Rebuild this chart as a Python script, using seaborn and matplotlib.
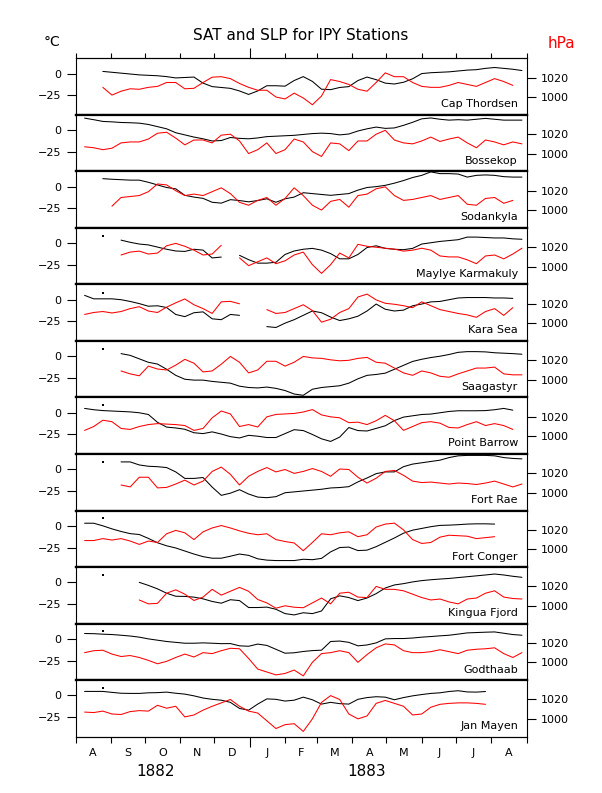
"""SAT and SLP for the IPY (1882-83) stations: stacked panels, black = SAT, red = SLP."""

import matplotlib

matplotlib.use("Agg")

import matplotlib.pyplot as plt
import numpy as np
import pandas as pd
import seaborn as sns

nan = np.nan

# readings sampled every 8 days starting 1 Aug 1882
start = pd.Timestamp("1882-08-01")
sample_dates = pd.date_range(start, periods=50, freq="8D")

stations = ["Cap Thordsen", "Bossekop", "Sodankyla", "Maylye Karmakuly", "Kara Sea", "Saagastyr",
            "Point Barrow", "Fort Rae", "Fort Conger", "Kingua Fjord", "Godthaab", "Jan Mayen"]

# surface air temperature, degC
cap_thordsen_sat = [nan, nan, nan, 2.5, 1.5, 0.5, -0.5, -1.5, -2, -2.5,
                    -3.5, -5, -4.5, -4, -11, -15, -16, -17, -20, -24,
                    -20, -14, -14, -14.5, -8, -3.5, -9, -18, -18.5, -16,
                    -15, -8, -4, -7, -11, -12, -10, -6, 0, 1,
                    1.5, 2, 3, 4, 4.5, 6, 7, 6, 5, 3.5]
bossekop_sat = [nan, 13.8, 12, 10, 9.5, 8.8, 8.5, 8, 6.5, 4,
                1.5, -3, -5.5, -8, -10, -12.5, -12, -8.5, -9.5, -10,
                -9, -7.5, -7, -6.5, -6, -5, -4, -3.5, -4, -5.5,
                -4.5, -1, 1.5, 3.5, 2, 2.5, 5.5, 9, 13, 14,
                12.5, 11.5, 12, 11.5, 12.5, 13.5, 12.5, 11.5, 11.5, 11.5]
sodankyla_sat = [nan, nan, nan, 9.2, 8.5, 8, 7.5, 7.5, 5, 2,
                 -1, -2.5, -10, -12, -13.5, -18, -19, -15, -16, -17.5,
                 -16, -14, -18, -14, -12, -7, -8, -9, -10, -9,
                 -8, -4, -1, 0, 1.5, 4, 7, 10.5, 13, 17,
                 15, 15, 14.5, 11, 13, 13.5, 13, 11.5, 11, 11]
karmakuly_sat = [nan, nan, nan, nan, nan, 3.5, 1, -1, -2, -4.5,
                 -7, -9, -9.5, -7, -8, -17, -16, nan, -14, -19,
                 -23, -23, -22, -13, -9, -7, -6, -8, -12, -18,
                 -18, -13, -5, -3, -6, -7, -7.5, -6, -1, 0.5,
                 2, 3, 4, 7, 7, 6.5, 6, 6, 5, 4.5]
kara_sea_sat = [nan, 5, 1, 1, 1, 0, -2, -4.5, -7.5, -7,
                -9, -17, -19.5, -15, -14, -22, -23, -17, -18, nan,
                nan, -31, -32, -27, -23, -18, -13, -15, -20, -24,
                -22, -19, -13, -5, -11, -13, -12, -7, -5, -2.5,
                -2, 0, 2, 2.5, 2.5, 2.5, 2, 2, 1.5, nan]
saagastyr_sat = [nan, nan, nan, nan, nan, 3, 1, -3, -7, -9,
                 -15, -22, -26.5, -27.5, -27.5, -29, -30, -31, -34.5, -36,
                 -36.5, -35.5, -37, -39.5, -43.5, -45, -38, -36, -35, -34,
                 -31, -26, -22, -21, -19.5, -15, -10.5, -6, -3.5, -1.5,
                 0, 2, 4.5, 5.3, 5.3, 5, 4, 3.5, 3, 2.3]
point_barrow_sat = [nan, 5, 3.5, 2.5, 2, 1.5, 1, 0, -2, -11,
                    -16.5, -17.5, -19, -23, -24, -22, -24.5, -27.5, -29, -26,
                    -27, -28.5, -28.5, -24, -19.5, -20.5, -25, -30, -33, -28,
                    -17, -20.5, -21, -18, -15, -9, -5, -3.5, -2, -1.5,
                    0, 1.5, 2.3, 2.3, 2.3, 2.5, 3.5, 5, 3, nan]
fort_rae_sat = [nan, nan, nan, nan, nan, 8.5, 8.5, 5, 3.5, 3,
                2, -3, -10.5, -10.5, -9.5, -20.5, -30, -27.5, -23.5, -28.5,
                -32, -32.7, -31.5, -27, -26, -25, -24, -23, -21.5, -21,
                -20, -14.5, -10, -5, -3, -3, 3, 6, 7.5, 9,
                10.5, 13.5, 15.5, 16, 16, 16, 15.5, 13.5, 12.5, 12]
fort_conger_sat = [nan, 3, 3, 0, -3.5, -6.5, -9, -10, -14.5, -19.5,
                   -23, -25.5, -29, -32.5, -35.5, -37.3, -37.3, -35, -32.5, -34,
                   -38, -39.5, -40, -40, -40, -38.5, -39, -37.5, -30, -25,
                   -24.5, -28.5, -28, -24, -19, -14, -8.5, -5, -3, -1,
                   0.5, 0.8, 1.3, 2, 2.3, 2.3, 2, nan, nan, nan]
kingua_fjord_sat = [nan, nan, nan, nan, nan, nan, nan, 0, -3.5, -7.5,
                    -12.5, -16, -16.2, -17, -19, -22, -24, -20, -21, -29,
                    -29, -28.5, -31, -36, -37.5, -35, -36, -33, -19, -15.5,
                    -17.5, -21, -18, -13, -6.5, -3, -1.5, 0.5, 2, 3,
                    3.8, 4.5, 5.5, 6.5, 7.5, 8.5, 9.6, 8.5, 7, 5.8]
godthaab_sat = [nan, 6.2, 6, 5.4, 5, 4.2, 3.3, 2, 0, -1.5,
                -3, -4, -5, -5, -4.6, -5, -5.5, -5.4, -8, -8.5,
                -6, -7.5, -12, -16.5, -16, -14.5, -13.5, -13, -3, -2.5,
                -4, -8, -7, -4.6, 0, 0.4, 0.4, 1, 2, 2.7,
                3.5, 4.2, 5.5, 6.9, 7.3, 7.7, 8, 6.5, 5, 4.2]
jan_mayen_sat = [nan, 4.6, 4.6, 4.6, 3.5, 2.5, 2.3, 2.3, 3, 3.2,
                 3.8, 2.5, 1.5, -0.5, -3, -4.5, -5.5, -8, -15, -17,
                 -10, -4, -4.5, -6.5, -5.5, -2, -5, -10, -8, -9.5,
                 -10, -4.5, -2.5, -1.5, -2, -5, -2.5, -0.5, 1, 2.3,
                 3, 4.5, 5.4, 4, 3.8, 4.5, nan, nan, nan, nan]

# sea level pressure, hPa
cap_thordsen_slp = [nan, nan, nan, 1010, 1002, 1006, 1008.5, 1008, 1010, 1011,
                    1015, 1015, 1008.5, 1009, 1015, 1020.5, 1021, 1019, 1014, 1010,
                    1007, 1007, 1000, 998, 1004, 999, 992, 1001, 1018, 1016,
                    1013, 1008, 1006, 1015, 1025, 1021, 1021, 1015, 1011, 1010,
                    1010, 1012, 1015, 1013, 1011, 1015, 1019, 1016, 1012, nan]
bossekop_slp = [nan, 1007, 1006, 1004, 1005.5, 1011, 1012, 1012, 1015, 1021,
                1022, 1016, 1009, 1014, 1014, 1011, 1019, 1020, 1013, 1000,
                1004, 1011, 1000, 1004, 1015, 1012, 1002, 997, 1011, 1010,
                1003, 1013, 1013, 1020, 1024, 1014, 1011, 1010, 1013, 1017,
                1012.5, 1015, 1017, 1011, 1006, 1014, 1012, 1009, 1012, 1010]
sodankyla_slp = [nan, nan, nan, nan, 1004, 1013, 1014, 1015, 1019, 1027,
                 1026, 1020, 1015, 1016.5, 1015, 1019, 1023, 1017, 1008, 1005,
                 1010, 1013, 1005, 1012, 1023, 1015, 1005, 1000, 1009, 1011,
                 1003, 1015, 1016.5, 1022, 1024, 1015, 1010, 1011, 1013, 1015,
                 1011, 1013, 1015, 1006, 1005, 1012, 1013, 1007, 1010, nan]
karmakuly_slp = [nan, nan, nan, nan, nan, 1012, 1015, 1016, 1013, 1014,
                 1021.5, 1024, 1021, 1017, 1012, 1013, 1022, nan, 1009, 1001,
                 1005, 1009, 1003, 1006, 1012, 1015, 1002, 993, 1002, 1014,
                 1009, 1023, 1021, 1020, 1019, 1018, 1016, 1017, 1019, 1017,
                 1011, 1010, 1010, 1007, 1003, 1011, 1012, 1008, 1013, 1019]
kara_sea_slp = [nan, 1009, 1011, 1012, 1010.5, 1012, 1015, 1017, 1012.5, 1011,
                1016.5, 1021, 1025, 1019, 1015, 1010, 1022, 1022.5, 1020, nan,
                nan, 1014, 1010, 1011, 1015, 1019, 1013, 1001, 1004, 1011,
                1015, 1027, 1030, 1024, 1020.5, 1019.5, 1018, 1016, 1022, 1018,
                1014, 1012, 1010, 1008.5, 1006, 1012, 1015, 1008, 1016, nan]
saagastyr_slp = [nan, nan, nan, nan, nan, 1009, 1006, 1004, 1014, 1011,
                 1010, 1015, 1021, 1017, 1008, 1009, 1016, 1024, 1018, 1007,
                 1010, 1019, 1019, 1014, 1018, 1024, 1022.5, 1022, 1020.5, 1019.5,
                 1020, 1022, 1023, 1018, 1017, 1012, 1007, 1004.5, 1009, 1007,
                 1003.5, 1002.5, 1006, 1009, 1012, 1012, 1013, 1006, 1005, 1005]
point_barrow_slp = [nan, 1006, 1010, 1016.5, 1015, 1008, 1007, 1010, 1012, 1013,
                    1012.5, 1012, 1011, 1006, 1008, 1019, 1026, 1023, 1010, 1012,
                    1009.5, 1020, 1022.5, 1023, 1023.5, 1025, 1027.5, 1022, 1020, 1019,
                    1014, 1014.5, 1012, 1016, 1021.5, 1016, 1006, 1010, 1014, 1015,
                    1013.5, 1009, 1008.5, 1012, 1015, 1011, 1013, 1011, 1007, nan]
fort_rae_slp = [nan, nan, nan, nan, nan, 1008, 1006, 1016, 1016, 1005,
                1005.5, 1009, 1013, 1008, 1012, 1022, 1026.5, 1019, 1008, 1017,
                1022, 1026, 1021.5, 1024, 1020, 1022, 1025, 1022, 1017, 1024.5,
                1024, 1016, 1010, 1015, 1022, 1023, 1018, 1012, 1010.5, 1011,
                1010, 1009, 1010, 1009.5, 1008.5, 1010, 1012, 1009, 1006, 1009]
fort_conger_slp = [nan, 1009, 1009, 1011, 1009.5, 1011, 1008.5, 1005, 1008.5, 1007,
                   1016, 1019.5, 1017, 1010, 1018, 1022, 1024.5, 1022, 1019, 1016.5,
                   1015, 1016, 1010, 1008, 1006.5, 998.5, 1007, 1016, 1015, 1017,
                   1018, 1013, 1015, 1023, 1026, 1027, 1020, 1010, 1006, 1007,
                   1012.5, 1014.5, 1014, 1013.5, 1011, 1012, 1013, nan, nan, nan]
kingua_fjord_slp = [nan, nan, nan, nan, nan, nan, nan, 1006, 1002, 1002.5,
                    1013, 1016.5, 1012, 1005.5, 1009, 1017, 1011, 1015, 1019, 1015,
                    1006.5, 1003, 997.5, 1000, 998.5, 998, 1003, 1008, 1002, 1013,
                    1014, 1009, 1008.5, 1020, 1017, 1017, 1015.5, 1012, 1008.5, 1006,
                    1007, 1004, 1002, 1007, 1008, 1013, 1015.5, 1009, 1007.5, 1007]
godthaab_slp = [nan, 1010, 1012, 1012.5, 1008.5, 1006, 1007, 1005, 1002, 998.5,
                1001, 1005, 1008.5, 1005.5, 1010, 1009, 1012, 1014.5, 1014, 1004,
                993, 990, 987, 988.5, 992, 986, 1000, 1009, 1010, 1012,
                1010, 1000, 1008, 1015, 1019, 1018, 1012, 1010, 1010, 1011,
                1013, 1011, 1009, 1012.5, 1013.5, 1014, 1015, 1009, 1005, 1010]
jan_mayen_slp = [nan, 1007, 1006.5, 1008, 1005, 1004.5, 1007.5, 1008.5, 1008, 1014,
                 1011, 1013, 1002, 1004, 1009, 1013, 1016.5, 1020, 1013, 1008,
                 1006, 998, 990, 994, 995, 987, 1000, 1017, 1024, 1020,
                 1005, 1000, 1003, 1016, 1019, 1016, 1013, 1004, 1005, 1012,
                 1015, 1016, 1016.5, 1016.5, 1016, 1015, nan, nan, nan, nan]

# lone SAT reading on 25 Aug 1882 drawn as a dot at several stations
dot_date = pd.Timestamp("1882-08-25")
dot_sat = [nan, nan, nan, 8.8, 8, 8, 8.8, 8.5, 8.8, 8.5, 9, 8.5]

sat_series = [cap_thordsen_sat, bossekop_sat, sodankyla_sat, karmakuly_sat, kara_sea_sat, saagastyr_sat,
              point_barrow_sat, fort_rae_sat, fort_conger_sat, kingua_fjord_sat, godthaab_sat, jan_mayen_sat]
slp_series = [cap_thordsen_slp, bossekop_slp, sodankyla_slp, karmakuly_slp, kara_sea_slp, saagastyr_slp,
              point_barrow_slp, fort_rae_slp, fort_conger_slp, kingua_fjord_slp, godthaab_slp, jan_mayen_slp]

month_letters = ["A", "S", "O", "N", "D", "J", "F", "M", "A", "M", "J", "J", "A"]
year_labels = [("1882", pd.Timestamp("1882-10-10")), ("1883", pd.Timestamp("1883-04-14"))]

# figure geometry, pixels
FIG_W, FIG_H = 602, 793
AX_LEFT, AX_RIGHT = 75.5, 526.5
AX_TOP, PANEL_H = 58.3, 56.53
SAT_LIM = (-47.5, 17.6)
SLP_LIM = (981.6, 1040.0)
THIN, THICK = 0.8, 1.6
LINE_W = 0.75


def _days(dates):
    return np.asarray((pd.DatetimeIndex(dates) - start).days, dtype=float)


def _segments(values):
    """Long-form frame with one 'seg' id per unbroken run, so gaps stay open."""
    s = pd.Series(values, dtype=float)
    frame = pd.DataFrame({"day": _days(sample_dates), "value": s, "seg": s.isna().cumsum()})
    return frame.dropna()


sns.set_style("white")
plt.rcParams["font.family"] = ["DejaVu Sans"]
for key in ("axes.edgecolor", "text.color", "axes.labelcolor", "xtick.color", "ytick.color"):
    plt.rcParams[key] = "black"

month_starts = pd.date_range(start, "1883-09-01", freq="MS")
month_days = _days(month_starts)
mid_days = (month_days[:-1] + month_days[1:]) / 2
jan_day = _days([pd.Timestamp("1883-01-01")])[0]
plain_ticks = [d for d in month_days if d != jan_day]
x_lim = (month_days[0], month_days[-1])

fig = plt.figure(figsize=(FIG_W / 100, FIG_H / 100), dpi=100)

n = len(stations)
for i, name in enumerate(stations):
    bottom = 1 - (AX_TOP + PANEL_H * (i + 1)) / FIG_H
    ax = fig.add_axes([AX_LEFT / FIG_W, bottom, (AX_RIGHT - AX_LEFT) / FIG_W, PANEL_H / FIG_H])
    ax2 = ax.twinx()

    sns.lineplot(data=_segments(sat_series[i]), x="day", y="value", units="seg", estimator=None,
                 color="black", linewidth=LINE_W, ax=ax, legend=False)
    sns.lineplot(data=_segments(slp_series[i]), x="day", y="value", units="seg", estimator=None,
                 color="#ff0000", linewidth=LINE_W, ax=ax2, legend=False)
    if not np.isnan(dot_sat[i]):
        sns.scatterplot(x=_days([dot_date]), y=[dot_sat[i]], ax=ax, color="black",
                        s=1, marker="s", linewidth=0, legend=False)

    ax.set_xlim(*x_lim)
    ax.set_ylim(*SAT_LIM)
    ax2.set_ylim(*SLP_LIM)
    for a in (ax, ax2):
        a.set_xlabel("")
        a.set_ylabel("")

    ax.set_yticks([0, -25])
    ax2.set_yticks([1020, 1000])
    ax.tick_params(axis="y", left=True, direction="out", length=6.5, width=THIN,
                   labelsize=8, pad=4, colors="black")
    ax2.tick_params(axis="y", right=True, direction="out", length=6.5, width=THIN,
                    labelsize=8, pad=4, colors="black")

    for side in ("left", "right"):
        ax.spines[side].set_linewidth(THIN)
    ax.spines["top"].set_linewidth(THIN if i == 0 else THICK)
    ax.spines["bottom"].set_linewidth(THIN if i == n - 1 else THICK)
    for spine in ax2.spines.values():
        spine.set_visible(False)

    ax.text(0.981, 0.186, name, transform=ax.transAxes, ha="right", va="center", fontsize=8)

    ax.set_xticks(plain_ticks)
    if i == 0:
        ax.tick_params(axis="x", top=True, bottom=False, labeltop=False, labelbottom=False,
                       direction="out", length=3.6, width=THIN)
        sec = ax.secondary_xaxis("top")
        sec.set_xticks([jan_day], labels=[""])
        sec.tick_params(direction="out", length=7.5, width=THIN)
        sec.spines["top"].set_linewidth(THIN)
    elif i == n - 1:
        ax.tick_params(axis="x", which="major", bottom=True, top=False, labelbottom=False,
                       direction="out", length=4.5, width=THIN)
        ax.set_xticks(mid_days, labels=month_letters, minor=True)
        ax.tick_params(axis="x", which="minor", bottom=True, length=0, labelsize=8, pad=8)
        sec = ax.secondary_xaxis("bottom")
        sec.set_xticks([jan_day], labels=[""])
        sec.tick_params(direction="out", length=7.5, width=THIN)
        sec.spines["bottom"].set_linewidth(THIN)
        for label, when in year_labels:
            ax.text(_days([when])[0], -0.614, label, transform=ax.get_xaxis_transform(),
                    ha="center", va="center", fontsize=11)
    else:
        ax.tick_params(axis="x", bottom=False, top=False, labelbottom=False, labeltop=False)

fig.text(301 / FIG_W, 1 - 35 / FIG_H, "SAT and SLP for IPY Stations", ha="center", va="center", fontsize=11)
fig.text(52 / FIG_W, 1 - 42 / FIG_H, "°C", ha="center", va="center", fontsize=10)
fig.text(561 / FIG_W, 1 - 43 / FIG_H, "hPa", ha="center", va="center", fontsize=11, color="#ff0000")

fig.savefig("out.png", dpi=100)
plt.close(fig)
